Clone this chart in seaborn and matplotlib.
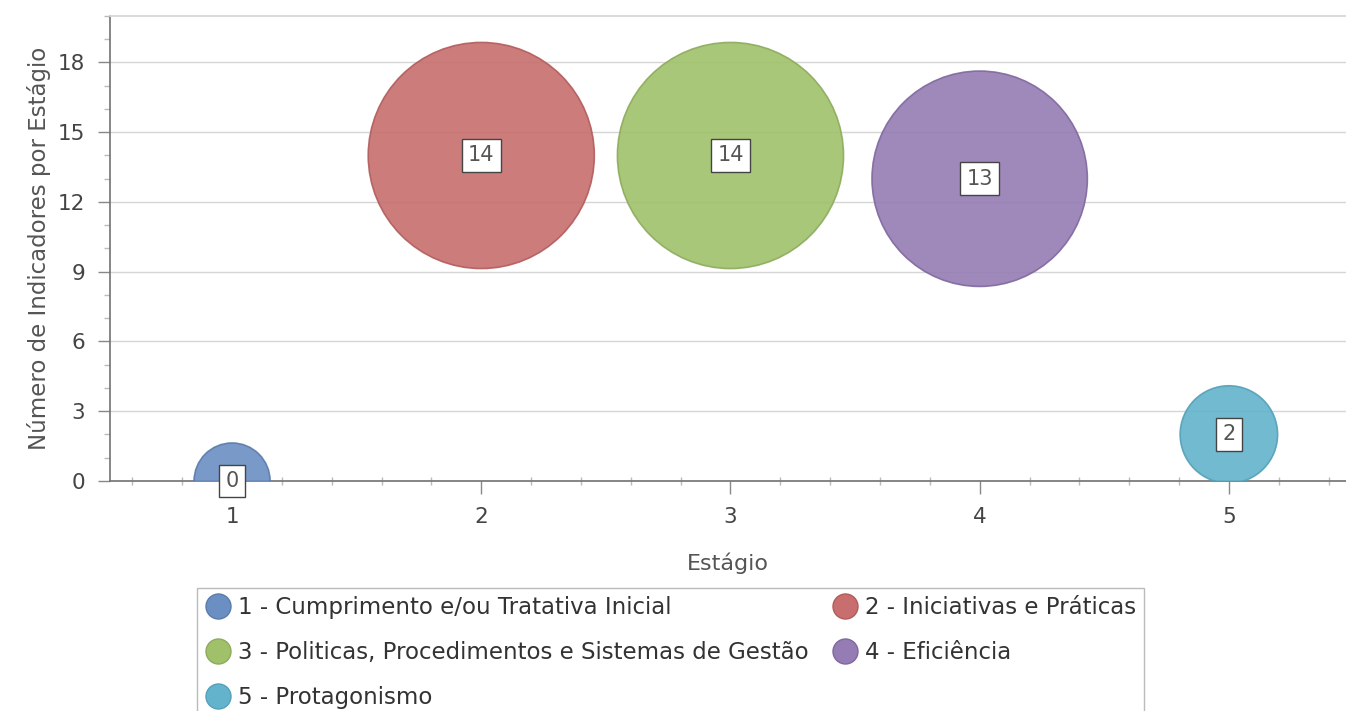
import matplotlib
matplotlib.use("Agg")
import matplotlib.pyplot as plt
from matplotlib.lines import Line2D
from matplotlib.ticker import MultipleLocator
import seaborn as sns
import pandas as pd

# Data
stages = [1, 2, 3, 4, 5]
counts = [0, 14, 14, 13, 2]
series_names = [
    "1 - Cumprimento e/ou Tratativa Inicial",
    "2 - Iniciativas e Práticas",
    "3 - Politicas, Procedimentos e Sistemas de Gestão",
    "4 - Eficiência",
    "5 - Protagonismo",
]
colors = ["#6b8fc2", "#c86e6e", "#a0c16a", "#957cb4", "#62b3cb"]
edge_colors = ["#5a7cab", "#b25c5c", "#8dab5c", "#7f689e", "#55a0b8"]

df = pd.DataFrame({"stage": stages, "count": counts, "series": series_names})

sns.set_theme(style="white")
plt.rcParams["font.family"] = ["DejaVu Sans"]

DPI = 100
fig = plt.figure(figsize=(13.46, 7.11), dpi=DPI)
ax = fig.add_axes([0.0817, 0.3235, 0.9183, 0.654])

# Bubble radius (pixels) grows linearly with the count
def bubble_area(v):
    r_px = 38 + 5.36 * v
    d_pt = 2 * r_px * 72 / DPI
    return d_pt ** 2

size_map = {v: bubble_area(v) for v in counts}
sns.scatterplot(
    data=df, x="stage", y="count", hue="series", size="count",
    sizes=size_map, palette=dict(zip(series_names, colors)),
    legend=False, ax=ax, alpha=0.9, linewidth=1.2,
    edgecolor=edge_colors, zorder=3,
)

ax.set_xlim(0.51, 5.47)
ax.set_ylim(0, 20)

ax.xaxis.set_major_locator(MultipleLocator(1))
ax.xaxis.set_minor_locator(MultipleLocator(0.2))
ax.set_yticks([0, 3, 6, 9, 12, 15, 18])
ax.yaxis.set_minor_locator(MultipleLocator(1))

ax.grid(axis="y", which="major", color="#d6d6d6", linewidth=1.0, zorder=0)
ax.tick_params(axis="both", which="major", direction="out", length=9,
               width=1, color="#888888", labelsize=15.5, labelcolor="#444444",
               bottom=True, left=True)
ax.tick_params(axis="x", which="minor", direction="inout", length=6,
               width=1, color="#bbbbbb", bottom=True)
ax.tick_params(axis="y", which="minor", direction="out", length=4,
               width=1, color="#bbbbbb", left=True)
ax.tick_params(axis="x", which="major", pad=10)
ax.tick_params(axis="y", which="major", pad=9)

ax.spines["right"].set_visible(False)
ax.spines["top"].set_color("#d6d6d6")
ax.spines["left"].set_color("#777777")
ax.spines["bottom"].set_color("#777777")

ax.set_xlabel("Estágio", fontsize=16, color="#555555", labelpad=18)
ax.set_ylabel("Número de Indicadores por Estágio", fontsize=16.5,
              color="#555555", labelpad=5)

# Value labels in white boxes
for x, y in zip(stages, counts):
    ax.text(x, y, str(y), ha="center", va="center", fontsize=15,
            color="#555555", zorder=5, clip_on=False,
            bbox=dict(boxstyle="square,pad=0.3", facecolor="white",
                      edgecolor="#444444", linewidth=1))

handles = [
    Line2D([0], [0], marker="o", linestyle="", markersize=18,
           markerfacecolor=c, markeredgecolor=e, markeredgewidth=1)
    for c, e in zip(colors, edge_colors)
]
# Row-major ordering for a two-column legend
order = [0, 2, 4, 1, 3]
leg = fig.legend([handles[i] for i in order], [series_names[i] for i in order],
                 ncol=2, loc="upper left", borderaxespad=0,
                 bbox_to_anchor=(0.146, 0.173), frameon=True, fancybox=False,
                 fontsize=16.5, handletextpad=0.25, columnspacing=1.0,
                 labelspacing=0.95, borderpad=0.35, handlelength=1.2)
leg.get_frame().set_edgecolor("#aaaaaa")
leg.get_frame().set_linewidth(1)
for t in leg.get_texts():
    t.set_color("#333333")

fig.savefig("out.png", dpi=DPI, facecolor="white")
